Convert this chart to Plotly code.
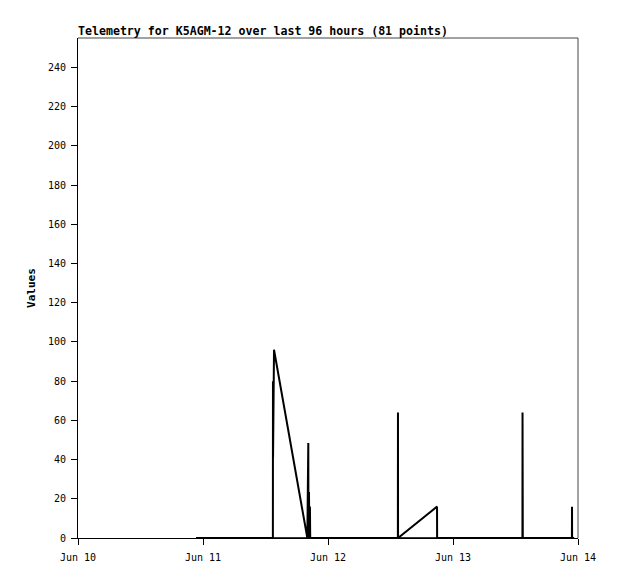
import plotly.graph_objects as go

# Black telemetry channel
black_times = [
    "2008-06-10 22:40", "2008-06-11 13:25", "2008-06-11 13:26", "2008-06-11 13:27",
    "2008-06-11 13:38", "2008-06-11 20:02", "2008-06-11 20:13", "2008-06-11 20:15",
    "2008-06-11 20:21", "2008-06-11 20:25", "2008-06-11 20:32", "2008-06-11 20:35",
    "2008-06-12 13:25", "2008-06-12 13:26", "2008-06-12 13:27", "2008-06-12 20:56",
    "2008-06-12 20:57", "2008-06-13 13:20", "2008-06-13 13:21", "2008-06-13 13:22",
    "2008-06-13 13:23", "2008-06-13 13:24", "2008-06-13 22:50", "2008-06-13 22:51",
    "2008-06-13 22:52", "2008-06-13 23:15",
]
black_values = [
    0, 0, 80, 41,
    96, 0, 48.5, 0,
    23.5, 0, 16, 0,
    0, 64, 0, 16,
    0, 0, 64, 0,
    48.5, 0, 0, 16,
    0, 0,
]

# Purple telemetry channel (flat at zero)
purple_times = ["2008-06-10 22:40", "2008-06-13 23:15"]
purple_values = [0, 0]

x_range = ["2008-06-10", "2008-06-14"]
y_range = [0, 255]
y_ticks = list(range(0, 241, 20))
title_text = "Telemetry for K5AGM-12 over last 96 hours (81 points)"

fig = go.Figure()
fig.add_trace(go.Scatter(x=purple_times, y=purple_values, mode="lines",
                         line=dict(color="#800080", width=2), showlegend=False))
fig.add_trace(go.Scatter(x=black_times, y=black_values, mode="lines",
                         line=dict(color="black", width=2), showlegend=False))

mono = "DejaVu Sans Mono"
W, H = 602, 563
fig.update_layout(
    width=W, height=H,
    margin=dict(l=70, r=32, t=30, b=33),
    paper_bgcolor="white", plot_bgcolor="white",
    title=dict(text="<b>" + title_text + "</b>", x=70/W, xanchor="left",
               y=1 - 23/H, yanchor="middle",
               font=dict(family=mono, size=11.6, color="black")),
    xaxis=dict(range=x_range, type="date", dtick=86400000, tickformat="%b %d",
               showgrid=False, zeroline=False, showline=True, linecolor="black",
               linewidth=1, ticks="outside", ticklen=6, tickcolor="black",
               ticklabelstandoff=4, automargin=False,
               tickfont=dict(family=mono, size=10, color="black")),
    yaxis=dict(range=y_range, tickvals=y_ticks, showgrid=False, zeroline=False,
               showline=True, linecolor="black", linewidth=1, ticks="outside",
               ticklen=6, tickcolor="black", ticklabelstandoff=3, automargin=False,
               tickfont=dict(family=mono, size=10, color="black"),
               title=dict(text="<b>Values</b>", standoff=10,
                          font=dict(family=mono, size=11, color="black"))),
    shapes=[
        dict(type="line", xref="paper", yref="paper", x0=0, x1=1, y0=1, y1=1,
             line=dict(color="#444444", width=1)),
        dict(type="line", xref="paper", yref="paper", x0=1, x1=1, y0=0, y1=1,
             line=dict(color="#444444", width=1)),
    ],
)

fig.write_html("out.html")
